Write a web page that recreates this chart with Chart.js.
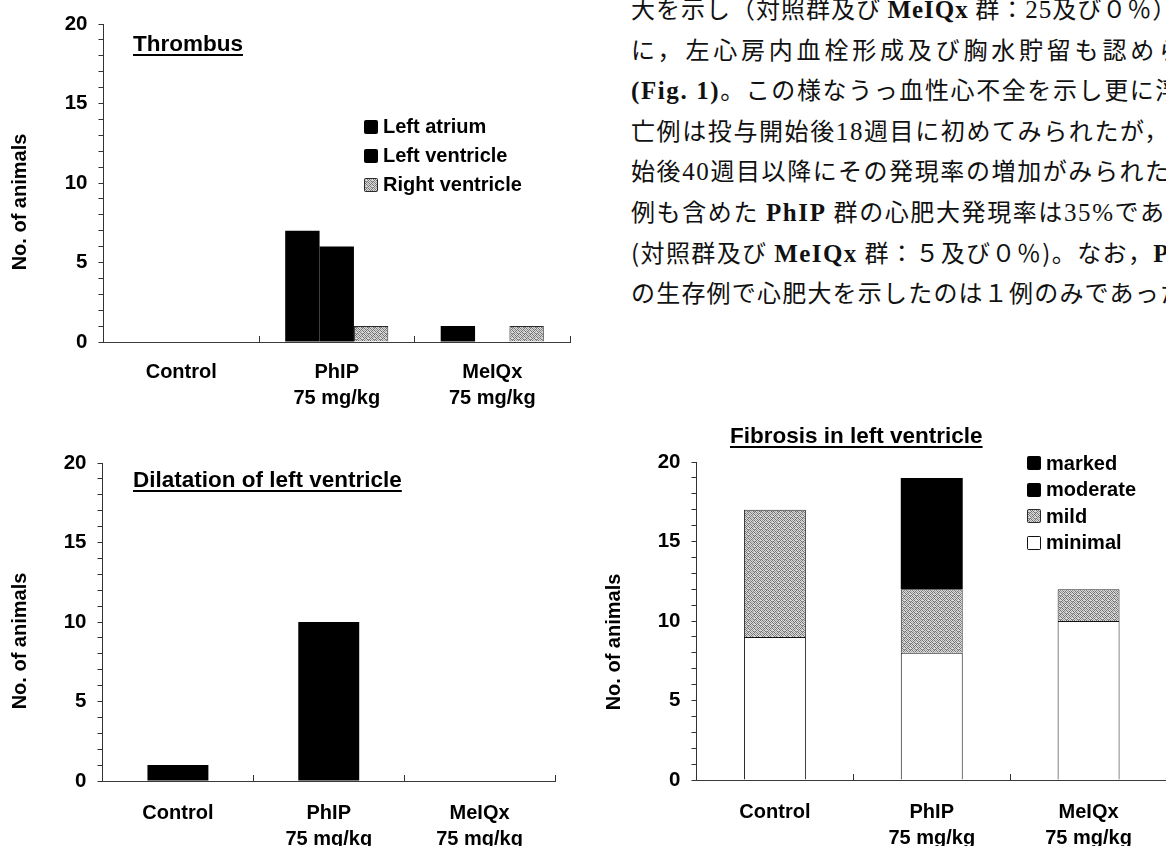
<!DOCTYPE html>
<html lang="ja">
<head>
<meta charset="utf-8">
<title>Cardiac lesions</title>
<script src="https://cdn.jsdelivr.net/npm/chart.js@4.4.1/dist/chart.umd.min.js"></script>
<style>
  html, body { margin: 0; padding: 0; background: #fff; }
  body { position: relative; width: 1166px; height: 846px; overflow: hidden; }
  .cv { position: absolute; }
  .ttl { position: absolute; font: bold 22.5px "Liberation Sans", Arial, sans-serif; line-height: 22.5px;
         white-space: nowrap; text-decoration: underline; text-decoration-thickness: 2px; text-underline-offset: 3px; color: #000; }
  .lg { position: absolute; font: bold 20px "Liberation Sans", Arial, sans-serif; color: #000; }
  .lg .row { display: flex; align-items: center; white-space: nowrap; }
  .lg canvas { display: block; margin-right: 5px; border-radius: 2px; }
  .jp { position: absolute; left: 631px; top: -12px; font: 24px "Noto Sans CJK JP", sans-serif; color: #111; white-space: nowrap; }
  .jp div { height: 40.6px; line-height: 40.6px; }
  .jp b { font-family: "Liberation Serif", serif; font-weight: bold; font-size: 25px; }
  .jp i { font-family: "Liberation Serif", serif; font-style: normal; font-size: 25px; }
</style>
</head>
<body>

<div class="jp">
  <div style="letter-spacing:1px">大を示し（対照群及び <b>MeIQx</b> 群：<i>25</i>及び０％）と共</div>
  <div style="letter-spacing:3.8px">に，左心房内血栓形成及び胸水貯留も認めら</div>
  <div style="letter-spacing:1.6px"><b>(Fig. 1)</b>。この様なうっ血性心不全を示し更に浮腫</div>
  <div style="letter-spacing:1.6px">亡例は投与開始後<i>18</i>週目に初めてみられたが，投</div>
  <div style="letter-spacing:1.6px">始後<i>40</i>週目以降にその発現率の増加がみられた。</div>
  <div style="letter-spacing:1.6px">例も含めた <b>PhIP</b> 群の心肥大発現率は<i>35%</i>であっ</div>
  <div style="letter-spacing:1.4px">(対照群及び <b>MeIQx</b> 群：５及び０％)。なお，<b>PhIP</b></div>
  <div style="letter-spacing:1.2px">の生存例で心肥大を示したのは１例のみであった</div>
</div>

<canvas id="thrombus" class="cv" width="600" height="430" style="left:0;top:0"></canvas>
<canvas id="dilatation" class="cv" width="600" height="440" style="left:0;top:430px"></canvas>
<canvas id="fibrosis" class="cv" width="600" height="440" style="left:590px;top:430px"></canvas>

<div class="ttl" style="left:133px;top:33px">Thrombus</div>
<div class="ttl" style="left:133px;top:469px">Dilatation of left ventricle</div>
<div class="ttl" style="left:730px;top:425px">Fibrosis in left ventricle</div>

<div id="lgThrombus" class="lg" style="left:364px;top:112px"></div>
<div id="lgFibrosis" class="lg" style="left:1027px;top:450px"></div>

<script>
// Treatment groups on the x axis
const groups = ['Control', ['PhIP', '75 mg/kg'], ['MeIQx', '75 mg/kg']];
const yMajorTicks = [0, 5, 10, 15, 20];
const yAxisTitle = 'No. of animals';

// Thrombus (number of animals)
const thrombusLeftAtrium = [0, 7, 1];
const thrombusLeftVentricle = [0, 6, 0];
const thrombusRightVentricle = [0, 1, 1];

// Dilatation of left ventricle
const dilatationLV = [1, 10, 0];

// Fibrosis in left ventricle, by grade
const fibrosisMinimal = [9, 8, 10];
const fibrosisMild = [8, 4, 2];
const fibrosisModerate = [0, 7, 0];
const fibrosisMarked = [0, 0, 0];

const FONT = '"Liberation Sans", Arial, Helvetica, sans-serif';
Chart.defaults.font.family = FONT;
Chart.defaults.color = '#000';

// halftone grey fill used for the stippled bars
function stipple() {
  const D = '#727272', L = '#dadada', M = '#a2a2a2';
  const cells = [
    [D, L, D, L, M, L],
    [L, M, L, D, L, D],
    [D, L, L, L, D, L],
    [L, D, M, D, L, M],
    [M, L, D, L, D, L],
    [L, D, L, M, L, D]
  ];
  const c = document.createElement('canvas');
  c.width = 6; c.height = 6;
  const g = c.getContext('2d');
  cells.forEach((row, y) => row.forEach((col, x) => { g.fillStyle = col; g.fillRect(x, y, 1, 1); }));
  return g.createPattern(c, 'repeat');
}
const GREY = stipple();

// rotated y-axis caption, centred a little below the plot centre
const yCaption = {
  id: 'yCaption',
  afterDraw(chart, args, o) {
    const { ctx, chartArea } = chart;
    ctx.save();
    ctx.translate(o.x, (chartArea.top + chartArea.bottom) / 2 + o.dy);
    ctx.rotate(-Math.PI / 2);
    ctx.font = 'bold 20px ' + FONT;
    ctx.fillStyle = '#000';
    ctx.textAlign = 'center';
    ctx.textBaseline = 'middle';
    ctx.fillText(yAxisTitle, 0, 0);
    ctx.restore();
  }
};

function scales(o) {
  return {
    x: {
      stacked: !!o.stacked,
      grid: { display: true, offset: true, drawOnChartArea: false, drawTicks: true, tickLength: -6, tickColor: '#333', lineWidth: 1 },
      border: { display: true, color: '#3a3a3a', width: 1 },
      ticks: { color: '#000', autoSkip: false, maxRotation: 0, padding: o.xPad,
               font: { family: FONT, size: 20, weight: 'bold', lineHeight: 1.3 } },
      afterFit: s => { s.height = o.xHeight; }
    },
    y: {
      stacked: !!o.stacked,
      min: 0, max: 20,
      grid: { display: true, drawOnChartArea: false, drawTicks: true, tickLength: 5, tickColor: '#333', lineWidth: 1 },
      border: { display: true, color: '#333', width: 1 },
      ticks: { stepSize: 1, autoSkip: false, color: '#000', padding: 11,
               font: { family: FONT, size: 20.5, weight: 'bold' },
               callback: v => yMajorTicks.includes(v) ? String(v) : '' },
      afterFit: s => { s.width = o.yWidth; }
    }
  };
}

function options(o) {
  return {
    responsive: false,
    animation: false,
    devicePixelRatio: 1,
    layout: { padding: { left: 0, top: o.top, right: o.right, bottom: 0 } },
    plugins: { legend: { display: false }, tooltip: { enabled: false }, title: { display: false },
               yCaption: { x: o.capX, dy: o.capDy } },
    scales: scales(o)
  };
}

function buildLegend(el, datasets, order) {
  order.forEach(i => {
    const ds = datasets[i];
    const row = document.createElement('div');
    row.className = 'row';
    row.style.height = el.dataset.row + 'px';
    const sw = document.createElement('canvas');
    sw.width = 14; sw.height = 14;
    const g = sw.getContext('2d');
    g.fillStyle = ds.backgroundColor;
    g.fillRect(0, 0, 14, 14);
    if (ds.borderWidth) { g.strokeStyle = ds.borderColor; g.lineWidth = 1; g.strokeRect(0.5, 0.5, 13, 13); }
    const tx = document.createElement('span');
    tx.textContent = ds.label;
    row.append(sw, tx);
    el.append(row);
  });
}

// --- Thrombus ---
const thrombusData = {
  labels: groups,
  datasets: [
    { label: 'Left atrium', data: thrombusLeftAtrium, backgroundColor: '#000', borderWidth: 0 },
    { label: 'Left ventricle', data: thrombusLeftVentricle, backgroundColor: '#000', borderWidth: 0 },
    { label: 'Right ventricle', data: thrombusRightVentricle, backgroundColor: GREY, borderColor: '#2a2a2a', borderWidth: 1 }
  ]
};
thrombusData.datasets.forEach(d => { d.categoryPercentage = 0.663; d.barPercentage = 1; });
new Chart(document.getElementById('thrombus'), {
  type: 'bar', data: thrombusData,
  options: options({ top: 24, right: 30, yWidth: 103.5, xHeight: 88, xPad: 23, capX: 20.5, capDy: 19 }),
  plugins: [yCaption]
});
const lgT = document.getElementById('lgThrombus');
lgT.dataset.row = 29;
buildLegend(lgT, thrombusData.datasets, [0, 1, 2]);

// --- Dilatation of left ventricle ---
new Chart(document.getElementById('dilatation'), {
  type: 'bar',
  data: { labels: groups, datasets: [
    { label: 'Dilatation', data: dilatationLV, backgroundColor: '#000', borderWidth: 0, categoryPercentage: 0.404, barPercentage: 1 }
  ] },
  options: options({ top: 33, right: 45, yWidth: 102.5, xHeight: 89, xPad: 25, capX: 20.5, capDy: 19 }),
  plugins: [yCaption]
});

// --- Fibrosis in left ventricle (stacked by grade) ---
const fibrosisData = {
  labels: groups,
  datasets: [
    { label: 'minimal', data: fibrosisMinimal, backgroundColor: '#fff', borderColor: '#111', borderWidth: 1 },
    { label: 'mild', data: fibrosisMild, backgroundColor: GREY, borderColor: '#2a2a2a', borderWidth: 1 },
    { label: 'moderate', data: fibrosisModerate, backgroundColor: '#000', borderWidth: 0 },
    { label: 'marked', data: fibrosisMarked, backgroundColor: '#000', borderWidth: 0 }
  ]
};
fibrosisData.datasets.forEach(d => { d.categoryPercentage = 0.395; d.barPercentage = 1; });
new Chart(document.getElementById('fibrosis'), {
  type: 'bar', data: fibrosisData,
  options: options({ stacked: true, top: 32, right: 23, yWidth: 106.5, xHeight: 90, xPad: 25, capX: 24, capDy: 21 }),
  plugins: [yCaption]
});
const lgF = document.getElementById('lgFibrosis');
lgF.dataset.row = 26.5;
buildLegend(lgF, fibrosisData.datasets, [3, 2, 1, 0]);
</script>
</body>
</html>
